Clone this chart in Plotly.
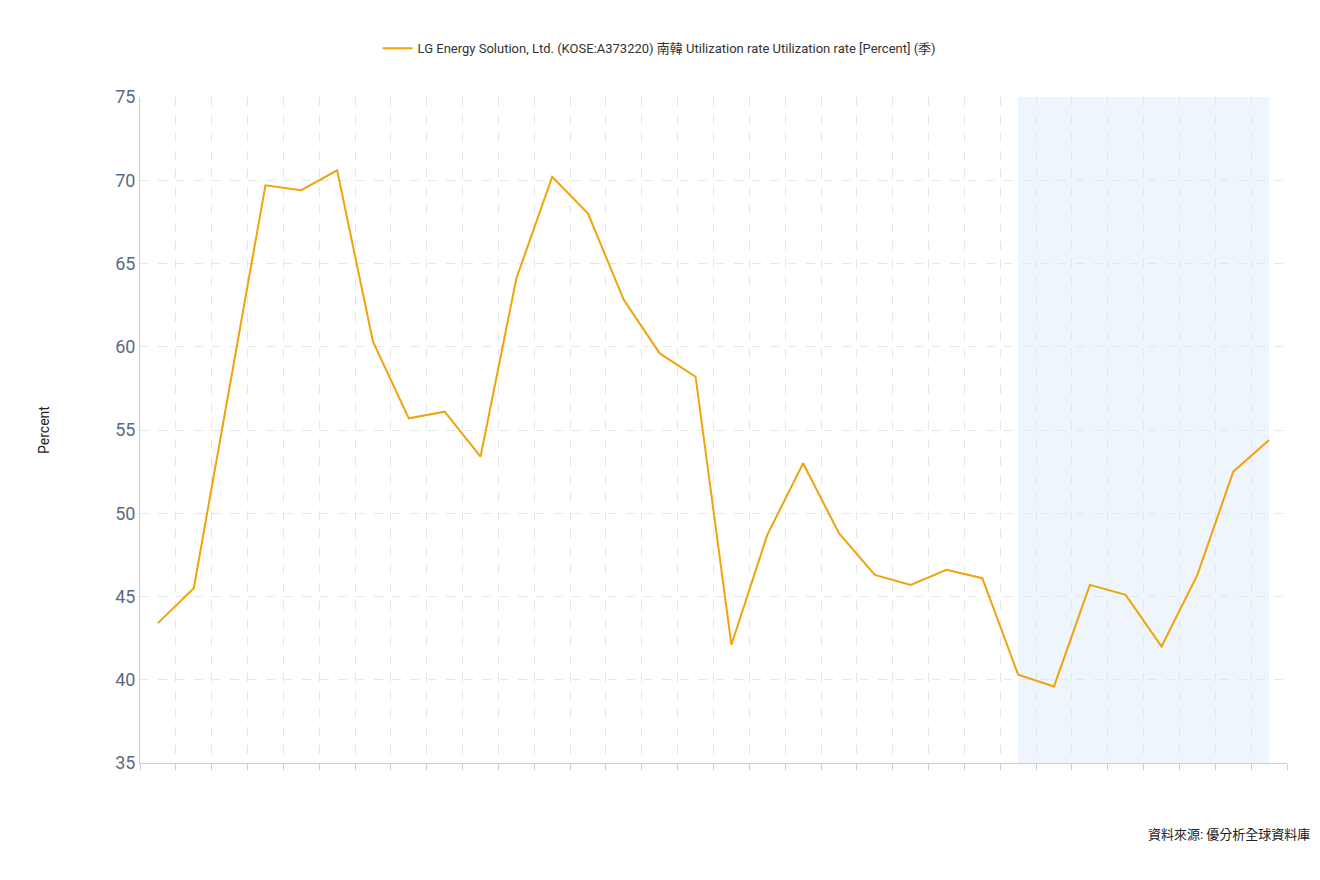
import plotly.graph_objects as go

idx = list(range(32))
values = [43.4, 45.5, 57.6, 69.7, 69.4, 70.6, 60.3, 55.7, 56.1, 53.4, 64.1, 70.2, 68.0, 62.8,
          59.6, 58.2, 42.1, 48.7, 53.0, 48.8, 46.3, 45.7, 46.6, 46.1, 40.3, 39.6, 45.7, 45.1,
          42.0, 46.3, 52.5, 54.4]
shade_start, shade_end = 24, 31
boundaries = [i - 0.5 for i in range(33)]
yticks = [35, 40, 45, 50, 55, 60, 65, 70, 75]

fig = go.Figure()
fig.add_vrect(x0=shade_start, x1=shade_end, fillcolor="#eef5fc", opacity=1, line_width=0, layer="below")
fig.add_trace(go.Scatter(x=idx, y=values, mode="lines", line=dict(color="#f0a30a", width=2),
                         name="LG Energy Solution, Ltd. (KOSE:A373220) 南韓 Utilization rate Utilization rate [Percent] (季)"))
fig.update_layout(
    width=1320, height=880, plot_bgcolor="white", paper_bgcolor="white",
    margin=dict(l=132, r=41, t=89, b=125),
    font=dict(family="Roboto, Noto Sans CJK TC", color="#5a6a85"),
    showlegend=True,
    legend=dict(orientation="h", x=0.453, xanchor="center", y=1.073, yanchor="middle",
                font=dict(size=13, color="#333333", family="Roboto, Noto Sans CJK TC")),
    xaxis=dict(range=[-0.5, 31.5], tickvals=boundaries, ticktext=[""] * 33, showgrid=True,
               gridcolor="#e3e7ec", griddash="dash", ticks="outside", ticklen=6, tickcolor="#c8ced6",
               showline=True, linecolor="#c8ced6", zeroline=False),
    yaxis=dict(range=[35, 75], tickvals=yticks, showgrid=True, gridcolor="#e3e7ec", griddash="dash",
               tickfont=dict(size=18, color="#5a6a85"), showline=True, linecolor="#c8ced6",
               zeroline=False, title=dict(text="Percent", font=dict(size=14, color="#222222"), standoff=62)),
    annotations=[dict(text="資料來源: 優分析全球資料庫", xref="paper", yref="paper", x=1.0215, y=-0.108,
                      xanchor="right", yanchor="middle", showarrow=False,
                      font=dict(size=13, color="#222222"))],
)
fig.write_html("out.html")
